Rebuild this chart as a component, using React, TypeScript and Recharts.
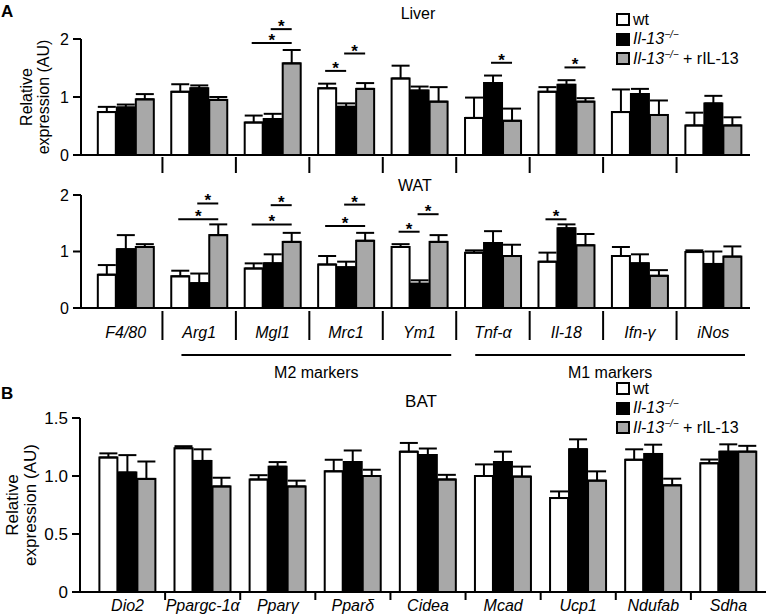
import React from 'react';
import { BarChart, Bar, XAxis, YAxis, ErrorBar, Legend } from 'recharts';

const FONT = '"Liberation Sans", Arial, Helvetica, sans-serif';

// ---------- data ----------
const seriesNames = ['wt', 'Il-13−/−', 'Il-13−/− + rIL-13'];
const seriesColors = ['#ffffff', '#000000', '#a8a8a8'];

const panelACategories = ['F4/80', 'Arg1', 'Mgl1', 'Mrc1', 'Ym1', 'Tnf-α', 'Il-18', 'Ifn-γ', 'iNos'];

const liverWt = [0.74, 1.09, 0.56, 1.15, 1.32, 0.64, 1.09, 0.74, 0.51];
const liverWtErr = [0.09, 0.13, 0.12, 0.08, 0.22, 0.35, 0.08, 0.39, 0.22];
const liverKo = [0.82, 1.15, 0.62, 0.83, 1.11, 1.24, 1.21, 1.05, 0.89];
const liverKoErr = [0.05, 0.05, 0.09, 0.06, 0.07, 0.13, 0.08, 0.09, 0.13];
const liverRescue = [0.96, 0.95, 1.58, 1.14, 0.92, 0.59, 0.92, 0.69, 0.51];
const liverRescueErr = [0.09, 0.05, 0.23, 0.1, 0.25, 0.21, 0.06, 0.25, 0.14];

const watWt = [0.59, 0.56, 0.7, 0.77, 1.08, 0.98, 0.82, 0.92, 0.99];
const watWtErr = [0.17, 0.1, 0.09, 0.15, 0.05, 0.04, 0.16, 0.16, 0.03];
const watKo = [1.04, 0.44, 0.79, 0.72, 0.43, 1.15, 1.41, 0.79, 0.78];
const watKoErr = [0.25, 0.17, 0.16, 0.1, 0.06, 0.21, 0.07, 0.16, 0.22];
const watRescue = [1.08, 1.29, 1.17, 1.19, 1.17, 0.92, 1.11, 0.57, 0.91];
const watRescueErr = [0.05, 0.19, 0.16, 0.14, 0.12, 0.2, 0.2, 0.1, 0.18];

const batCategories = ['Dio2', 'Ppargc-1α', 'Pparγ', 'Pparδ', 'Cidea', 'Mcad', 'Ucp1', 'Ndufab', 'Sdha'];
const batWt = [1.16, 1.24, 0.97, 1.04, 1.21, 1.0, 0.81, 1.14, 1.11];
const batWtErr = [0.035, 0.017, 0.037, 0.1, 0.075, 0.1, 0.057, 0.09, 0.032];
const batKo = [1.03, 1.13, 1.08, 1.12, 1.18, 1.12, 1.23, 1.19, 1.21];
const batKoErr = [0.15, 0.1, 0.04, 0.1, 0.057, 0.09, 0.086, 0.08, 0.063];
const batRescue = [0.975, 0.91, 0.91, 1.0, 0.97, 0.995, 0.96, 0.92, 1.21];
const batRescueErr = [0.15, 0.075, 0.05, 0.054, 0.04, 0.086, 0.08, 0.057, 0.05];

// significance brackets: [category, from series, to series, height]
const liverSignificance: [string, number, number, number][] = [
  ['Mgl1', 0, 2, 1.93], ['Mgl1', 1, 2, 2.17],
  ['Mrc1', 0, 1, 1.45], ['Mrc1', 1, 2, 1.75],
  ['Tnf-α', 1, 2, 1.59], ['Il-18', 1, 2, 1.51],
];
const watSignificance: [string, number, number, number][] = [
  ['Arg1', 0, 2, 1.57], ['Arg1', 1, 2, 1.85],
  ['Mgl1', 0, 2, 1.48], ['Mgl1', 1, 2, 1.82],
  ['Mrc1', 0, 2, 1.45], ['Mrc1', 1, 2, 1.83],
  ['Ym1', 0, 1, 1.35], ['Ym1', 1, 2, 1.66],
  ['Il-18', 0, 1, 1.57],
];

const markerGroups = [
  { label: 'M2 markers', from: 'Arg1', to: 'Ym1' },
  { label: 'M1 markers', from: 'Tnf-α', to: 'iNos' },
];

const yTicksA = [0, 1, 2];
const yTicksB = [0, 0.5, 1, 1.5];

// ---------- helpers ----------
const BAR_GAP = 1;

function buildRows(cats: string[], wt: number[], wtE: number[], ko: number[], koE: number[], rs: number[], rsE: number[]) {
  return cats.map((c, i) => ({
    cat: c,
    wt: wt[i], wtErr: [0, wtE[i]],
    ko: ko[i], koErr: [0, koE[i]],
    rescue: rs[i], rescueErr: [0, rsE[i]],
  }));
}

const liverRows = buildRows(panelACategories, liverWt, liverWtErr, liverKo, liverKoErr, liverRescue, liverRescueErr);
const watRows = buildRows(panelACategories, watWt, watWtErr, watKo, watKoErr, watRescue, watRescueErr);
const batRows = buildRows(batCategories, batWt, batWtErr, batKo, batKoErr, batRescue, batRescueErr);

type TickOpts = {
  cats: string[];
  showLabel: boolean;
  sepFrom: number;
  sepTo: number;
  labelDy: number;
  fontSize: number;
  groups?: { label: string; from: string; to: string }[];
};

const makeTick = (o: TickOpts) => (props: any) => {
  const { x, y, payload } = props;
  const idx = typeof payload.index === 'number' ? payload.index : o.cats.indexOf(payload.value);
  const half = payload.offset || 36.7;
  const els: any[] = [];
  if (idx < o.cats.length - 1) {
    els.push(<line key="s" x1={x + half} x2={x + half} y1={y + o.sepFrom} y2={y + o.sepTo} stroke="#000" strokeWidth={2} />);
  }
  if (o.showLabel) {
    els.push(
      <text key="t" x={x} y={y + o.labelDy} textAnchor="middle" fontStyle="italic" fontSize={o.fontSize} fill="#000" fontFamily={FONT}>
        {payload.value}
      </text>
    );
  }
  (o.groups || []).forEach((g, gi) => {
    if (o.cats.indexOf(g.from) === idx) {
      const span = o.cats.indexOf(g.to) - idx;
      const x1 = x - half + 19;
      const x2 = x + span * 2 * half + half - 5;
      els.push(<line key={'gl' + gi} x1={x1} x2={x2} y1={y + 47} y2={y + 47} stroke="#000" strokeWidth={2} />);
      els.push(
        <text key={'gt' + gi} x={(x1 + x2) / 2} y={y + 70} textAnchor="middle" fontSize={16} fill="#000" fontFamily={FONT}>
          {g.label}
        </text>
      );
    }
  });
  return <g>{els}</g>;
};

const makeRescueShape = (cats: string[], sig: [string, number, number, number][]) => (props: any) => {
  const { x, y, width, height, index, payload } = props;
  const v = payload ? payload.rescue : 0;
  const ppu = v ? height / v : 0;
  const base = y + height;
  const step = width + BAR_GAP;
  const cx2 = x + width / 2;
  const cat = cats[index];
  const list = sig.filter((s) => s[0] === cat);
  return (
    <g>
      <rect x={x} y={y} width={width} height={height} fill={seriesColors[2]} stroke="#000" strokeWidth={2} />
      {list.map(([, a, b, lvl], k) => {
        const x1 = cx2 - (2 - a) * step - 2;
        const x2 = cx2 - (2 - b) * step;
        const yy = base - lvl * ppu;
        return (
          <g key={k}>
            <line x1={x1} x2={x2} y1={yy} y2={yy} stroke="#000" strokeWidth={2} />
            <text x={(x1 + x2) / 2} y={yy + 3} textAnchor="middle" fontSize={17} fontWeight="bold" fill="#000" fontFamily={FONT}>*</text>
          </g>
        );
      })}
    </g>
  );
};

const makeYLabel = (fontSize: number, xa: number, xb: number) => (p: any) => {
  const vb = p && p.viewBox ? p.viewBox : { y: 0, height: 0 };
  const cy = vb.y + vb.height / 2;
  return (
    <g fontFamily={FONT} fontSize={fontSize} fill="#000">
      <text x={xa} y={cy} transform={`rotate(-90 ${xa} ${cy})`} textAnchor="middle" fill="#000">Relative</text>
      <text x={xb} y={cy} transform={`rotate(-90 ${xb} ${cy})`} textAnchor="middle" fill="#000">expression (AU)</text>
    </g>
  );
};

const renderLegend = () => (
  <div style={{ fontFamily: FONT, fontSize: 16, color: '#000' }}>
    {seriesNames.map((n, i) => {
      const parts = n.split('−/−');
      return (
        <div key={i} style={{ display: 'flex', alignItems: 'center', height: 19.5, whiteSpace: 'nowrap' }}>
          <span style={{ display: 'inline-block', boxSizing: 'border-box', width: 14, height: 13, border: '2px solid #000', background: seriesColors[i], marginRight: 3 }} />
          {parts.length === 1 ? (
            <span>{n}</span>
          ) : (
            <span>
              <i>{parts[0]}</i>
              <span style={{ fontStyle: 'italic', fontSize: 10, position: 'relative', top: -6 }}>−/−</span>
              {parts[1]}
            </span>
          )}
        </div>
      );
    })}
  </div>
);

type PanelProps = {
  rows: any[];
  cats: string[];
  top: number;
  height: number;
  margin: { top: number; right: number; left: number; bottom: number };
  yWidth: number;
  xHeight: number;
  padLeft: number;
  catGap: string;
  yDomain: [number, number];
  yTicks: number[];
  yFont: number;
  tick: TickOpts;
  sig: [string, number, number, number][];
  yLabel?: any;
  legendTop?: number;
};

function Panel(p: PanelProps) {
  return (
    <div style={{ position: 'absolute', left: 0, top: p.top, width: 769, height: p.height }}>
      <BarChart width={769} height={p.height} data={p.rows} margin={p.margin} barCategoryGap={p.catGap} barGap={BAR_GAP}>
        <XAxis
          dataKey="cat"
          type="category"
          interval={0}
          height={p.xHeight}
          padding={{ left: p.padLeft, right: 0 }}
          axisLine={{ stroke: '#000', strokeWidth: 2 }}
          tickLine={false}
          tickSize={0}
          tickMargin={0}
          tick={makeTick(p.tick)}
        />
        <YAxis
          width={p.yWidth}
          domain={p.yDomain}
          ticks={p.yTicks}
          interval={0}
          axisLine={{ stroke: '#000', strokeWidth: 2 }}
          tickLine={{ stroke: '#000', strokeWidth: 2 }}
          tickSize={8}
          tickMargin={4}
          tick={{ fill: '#000', fontSize: p.yFont, fontFamily: FONT }}
          tickFormatter={(v: number) => (p.yTicks.some((t) => t % 1 !== 0) && v !== 0 ? v.toFixed(1) : String(v))}
          label={p.yLabel}
        />
        {p.legendTop !== undefined && (
          <Legend
            layout="horizontal"
            verticalAlign="middle"
            align="center"
            content={renderLegend}
            wrapperStyle={{ left: 616, top: p.legendTop, width: 160, height: 60 }}
          />
        )}
        <Bar dataKey="wt" name={seriesNames[0]} fill={seriesColors[0]} stroke="#000" strokeWidth={2} isAnimationActive={false}>
          <ErrorBar dataKey="wtErr" width={9} stroke="#000" strokeWidth={2} direction="y" />
        </Bar>
        <Bar dataKey="ko" name={seriesNames[1]} fill={seriesColors[1]} stroke="#000" strokeWidth={2} isAnimationActive={false}>
          <ErrorBar dataKey="koErr" width={9} stroke="#000" strokeWidth={2} direction="y" />
        </Bar>
        <Bar
          dataKey="rescue"
          name={seriesNames[2]}
          fill={seriesColors[2]}
          stroke="#000"
          strokeWidth={2}
          isAnimationActive={false}
          shape={makeRescueShape(p.cats, p.sig)}
        >
          <ErrorBar dataKey="rescueErr" width={9} stroke="#000" strokeWidth={2} direction="y" />
        </Bar>
      </BarChart>
    </div>
  );
}

const textStyle = (left: number, top: number, size: number, extra: any = {}) => ({
  position: 'absolute' as const,
  left,
  top,
  fontFamily: FONT,
  fontSize: size,
  lineHeight: 1,
  color: '#000',
  whiteSpace: 'nowrap' as const,
  ...extra,
});

export default function App() {
  return (
    <div style={{ position: 'absolute', left: 0, top: 0, width: 769, height: 615, background: '#fff', overflow: 'hidden' }}>
      <Panel
        rows={liverRows}
        cats={panelACategories}
        top={0}
        height={180}
        margin={{ top: 39, right: 19, left: 0, bottom: 0 }}
        yWidth={81}
        xHeight={25}
        padLeft={8}
        catGap="12%"
        yDomain={[0, 2]}
        yTicks={yTicksA}
        yFont={16}
        tick={{ cats: panelACategories, showLabel: false, sepFrom: 2, sepTo: 18, labelDy: 0, fontSize: 16 }}
        sig={liverSignificance}
        yLabel={makeYLabel(16, 32, 49)}
        legendTop={10}
      />
      <Panel
        rows={watRows}
        cats={panelACategories}
        top={170}
        height={210}
        margin={{ top: 25, right: 19, left: 0, bottom: 0 }}
        yWidth={81}
        xHeight={72}
        padLeft={8}
        catGap="12%"
        yDomain={[0, 2]}
        yTicks={yTicksA}
        yFont={16}
        tick={{ cats: panelACategories, showLabel: true, sepFrom: 3, sepTo: 32, labelDy: 30, fontSize: 16, groups: markerGroups }}
        sig={watSignificance}
      />
      <Panel
        rows={batRows}
        cats={batCategories}
        top={380}
        height={235}
        margin={{ top: 38, right: 3, left: 0, bottom: 0 }}
        yWidth={80}
        xHeight={23}
        padLeft={10}
        catGap="12.5%"
        yDomain={[0, 1.5]}
        yTicks={yTicksB}
        yFont={17}
        tick={{ cats: batCategories, showLabel: true, sepFrom: 0, sepTo: 8, labelDy: 18.5, fontSize: 16 }}
        sig={[]}
        yLabel={makeYLabel(17, 18, 36)}
        legendTop={-1}
      />
      <div style={textStyle(1, 3, 17, { fontWeight: 'bold' })}>A</div>
      <div style={textStyle(1, 385, 17, { fontWeight: 'bold' })}>B</div>
      <div style={textStyle(368, 6, 16, { width: 100, textAlign: 'center' })}>Liver</div>
      <div style={textStyle(365, 178, 16, { width: 100, textAlign: 'center' })}>WAT</div>
      <div style={textStyle(371, 393, 17, { width: 100, textAlign: 'center' })}>BAT</div>
    </div>
  );
}
